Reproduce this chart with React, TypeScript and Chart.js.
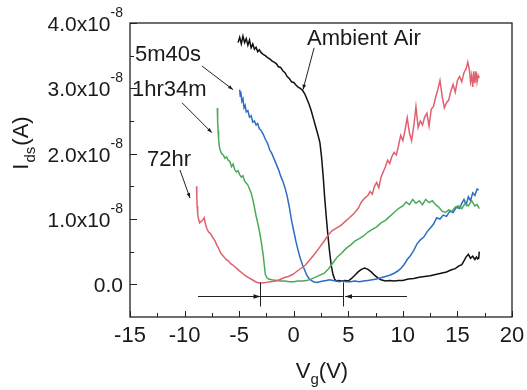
import React, { useEffect, useRef } from "react";
import { Chart, registerables } from "chart.js";

Chart.register(...registerables);

// ---- Data (current in units of 1e-8 A, gate voltage in V) ----
const ambientV = [-5.1,-4.95,-4.8,-4.65,-4.5,-4.35,-4.2,-4.05,-3.9,-3.75,-3.6,-3.45,-3.3,-3.15,-3.0,-2.8,-2.6,-2.4,-2.2,-2.0,-1.8,-1.6,-1.4,-1.2,-1.0,-0.8,-0.6,-0.4,-0.2,0.0,0.2,0.4,0.6,0.8,1.0,1.2,1.4,1.6,1.8,2.0,2.2,2.4,2.55,2.7,2.85,3.0,3.15,3.3,3.45,3.6,3.75,3.9,4.1,4.4,4.7,5.0,5.3,5.6,5.9,6.2,6.5,6.8,7.1,7.4,7.7,8.0,8.4,8.8,9.2,9.6,10.0,10.5,11.0,11.5,12.0,12.5,13.0,13.5,14.0,14.4,14.8,15.1,15.4,15.6,15.8,16.0,16.2,16.4,16.6,16.75,16.85,16.95,17.0];
const ambientI = [3.70,3.78,3.68,3.80,3.70,3.76,3.66,3.74,3.62,3.68,3.60,3.63,3.56,3.59,3.55,3.52,3.50,3.47,3.45,3.42,3.40,3.38,3.33,3.32,3.27,3.24,3.18,3.15,3.10,3.09,3.05,3.02,3.00,2.97,2.92,2.84,2.76,2.66,2.54,2.42,2.30,2.17,1.95,1.65,1.30,1.00,0.72,0.48,0.28,0.15,0.08,0.05,0.06,0.05,0.06,0.05,0.09,0.14,0.19,0.23,0.25,0.23,0.19,0.14,0.10,0.07,0.05,0.06,0.05,0.06,0.06,0.08,0.09,0.11,0.12,0.13,0.15,0.17,0.19,0.22,0.24,0.28,0.30,0.36,0.42,0.46,0.40,0.43,0.38,0.42,0.39,0.40,0.50];

const m5s40V = [-4.95,-4.9,-4.85,-4.75,-4.65,-4.55,-4.45,-4.35,-4.2,-4.05,-3.9,-3.75,-3.6,-3.45,-3.3,-3.15,-3.0,-2.8,-2.6,-2.4,-2.2,-2.0,-1.8,-1.6,-1.4,-1.2,-1.0,-0.8,-0.6,-0.4,-0.2,0.0,0.2,0.4,0.6,0.8,1.0,1.2,1.4,1.6,1.8,2.1,2.4,2.7,3.0,3.3,3.6,3.9,4.2,4.5,4.8,5.2,5.6,6.0,6.4,6.8,7.2,7.6,8.0,8.4,8.8,9.2,9.5,9.8,10.1,10.4,10.7,11.0,11.3,11.6,11.9,12.2,12.5,12.8,13.1,13.4,13.7,14.0,14.3,14.6,14.9,15.2,15.4,15.6,15.8,16.0,16.2,16.4,16.6,16.8,16.95];
const m5s40I = [2.98,2.88,2.95,2.80,2.84,2.70,2.74,2.64,2.66,2.56,2.58,2.48,2.50,2.44,2.46,2.38,2.36,2.30,2.22,2.16,2.06,2.00,1.92,1.84,1.76,1.66,1.58,1.48,1.35,1.18,0.98,0.82,0.66,0.52,0.40,0.30,0.22,0.14,0.09,0.06,0.04,0.03,0.04,0.05,0.06,0.07,0.06,0.05,0.04,0.05,0.04,0.04,0.05,0.04,0.05,0.06,0.07,0.08,0.10,0.12,0.14,0.17,0.20,0.24,0.30,0.38,0.44,0.52,0.62,0.68,0.72,0.80,0.86,0.92,1.02,1.00,1.06,1.04,1.12,1.10,1.18,1.16,1.24,1.30,1.22,1.34,1.28,1.40,1.36,1.46,1.44];

const h1m34V = [-7.0,-6.97,-6.93,-6.88,-6.82,-6.75,-6.6,-6.45,-6.3,-6.15,-6.0,-5.85,-5.7,-5.55,-5.4,-5.25,-5.1,-4.95,-4.8,-4.65,-4.5,-4.35,-4.2,-4.05,-3.9,-3.75,-3.6,-3.45,-3.3,-3.15,-3.0,-2.9,-2.8,-2.7,-2.6,-2.45,-2.3,-2.0,-1.6,-1.2,-0.8,-0.4,0.0,0.4,0.8,1.2,1.6,2.0,2.4,2.8,3.2,3.6,4.0,4.4,4.8,5.2,5.6,6.0,6.4,6.8,7.2,7.6,8.0,8.4,8.8,9.2,9.6,10.0,10.3,10.6,10.9,11.2,11.5,11.8,12.1,12.4,12.7,13.0,13.3,13.6,13.9,14.2,14.5,14.8,15.1,15.4,15.7,16.0,16.3,16.6,16.8,17.0];
const h1m34I = [2.70,2.50,2.35,2.22,2.12,2.06,2.00,1.98,1.93,1.95,1.90,1.88,1.80,1.84,1.75,1.72,1.74,1.68,1.64,1.66,1.58,1.55,1.52,1.46,1.40,1.30,1.18,1.05,0.94,0.82,0.68,0.57,0.45,0.30,0.15,0.10,0.08,0.07,0.06,0.05,0.05,0.04,0.04,0.05,0.05,0.06,0.08,0.11,0.14,0.17,0.24,0.33,0.42,0.48,0.55,0.60,0.66,0.70,0.74,0.80,0.84,0.88,0.94,0.98,1.04,1.10,1.16,1.20,1.26,1.22,1.30,1.24,1.28,1.22,1.30,1.25,1.28,1.22,1.18,1.12,1.10,1.14,1.12,1.18,1.20,1.16,1.24,1.20,1.28,1.20,1.22,1.16];

const h72V = [-8.9,-8.88,-8.85,-8.8,-8.72,-8.62,-8.5,-8.35,-8.2,-8.08,-7.95,-7.8,-7.65,-7.5,-7.35,-7.2,-7.05,-6.9,-6.75,-6.6,-6.4,-6.2,-6.0,-5.8,-5.6,-5.4,-5.2,-5.0,-4.7,-4.4,-4.1,-3.8,-3.5,-3.2,-2.9,-2.5,-2.1,-1.7,-1.3,-0.9,-0.5,-0.1,0.3,0.7,1.1,1.5,1.9,2.3,2.7,3.1,3.5,3.9,4.3,4.7,5.1,5.5,5.9,6.2,6.5,6.8,7.0,7.2,7.4,7.6,7.8,8.0,8.2,8.4,8.6,8.8,9.0,9.2,9.4,9.6,9.8,10.0,10.2,10.4,10.6,10.8,11.0,11.2,11.4,11.6,11.8,12.0,12.2,12.4,12.6,12.8,13.0,13.2,13.4,13.6,13.8,14.0,14.2,14.4,14.6,14.8,15.0,15.2,15.4,15.6,15.8,15.95,16.1,16.2,16.3,16.4,16.5,16.6,16.7,16.8,16.9,17.0];
const h72I = [1.50,1.35,1.20,1.08,1.00,0.94,0.96,0.98,1.02,0.92,0.85,0.80,0.78,0.74,0.70,0.66,0.60,0.56,0.50,0.46,0.42,0.38,0.36,0.32,0.30,0.27,0.24,0.21,0.17,0.13,0.10,0.07,0.04,0.02,0.02,0.03,0.04,0.05,0.07,0.10,0.12,0.15,0.20,0.25,0.30,0.38,0.46,0.55,0.64,0.74,0.82,0.86,0.90,0.96,1.02,1.08,1.16,1.26,1.32,1.36,1.42,1.38,1.50,1.56,1.48,1.64,1.72,1.80,1.90,1.85,1.96,2.02,1.98,2.12,2.28,2.20,2.36,2.55,2.32,2.20,2.42,2.72,2.40,2.50,2.44,2.56,2.62,2.42,2.68,2.72,2.86,2.98,3.12,2.88,2.70,2.78,2.82,2.96,3.06,2.94,3.12,3.18,3.10,3.24,3.30,3.40,3.28,3.10,3.20,3.02,3.26,3.08,3.26,3.10,3.20,3.16];

// ---- Axes ----
const xMajorTicks = [-15, -10, -5, 0, 5, 10, 15, 20];
const xMinorTicks = [-12.5, -7.5, -2.5, 2.5, 7.5, 12.5, 17.5];
const yMajorTicks = [0, 1, 2, 3, 4];
const yMinorTicks = [0.5, 1.5, 2.5, 3.5];
const yTickLabels = ["0.0", "1.0x10", "2.0x10", "3.0x10", "4.0x10"];
const yTickExponent = ["", "-8", "-8", "-8", "-8"];

// ---- Annotations (data coordinates) ----
const curveLabels = ["Ambient Air", "5m40s", "1hr34m", "72hr"];
const labelAt = [[1.22, 3.75], [-14.54, 3.51], [-14.82, 2.97], [-13.44, 1.91]];
const pointerFrom = [[1.87, 3.62], [-8.4, 3.34], [-10.24, 2.78], [-10.42, 1.75]];
const pointerTo = [[0.85, 2.98], [-5.56, 2.98], [-7.49, 2.32], [-9.5, 1.32]];
const shiftMarkers = [-3.09, 4.52];
const shiftArrowY = -0.185;

const FONT = '"Liberation Sans", Arial, Helvetica, sans-serif';

function toPts(xs: number[], ys: number[]) {
  return xs.map((x, i) => ({ x, y: ys[i] }));
}

function drawArrow(ctx: CanvasRenderingContext2D, x1: number, y1: number, x2: number, y2: number, head = 7, half = 2.6) {
  ctx.beginPath();
  ctx.moveTo(x1, y1);
  ctx.lineTo(x2, y2);
  ctx.stroke();
  const a = Math.atan2(y2 - y1, x2 - x1);
  ctx.beginPath();
  ctx.moveTo(x2, y2);
  ctx.lineTo(x2 - head * Math.cos(a) + half * Math.sin(a), y2 - head * Math.sin(a) - half * Math.cos(a));
  ctx.lineTo(x2 - head * Math.cos(a) - half * Math.sin(a), y2 - head * Math.sin(a) + half * Math.cos(a));
  ctx.closePath();
  ctx.fill();
}

const decorPlugin = {
  id: "decor",
  afterDraw(chart: any) {
    const ctx: CanvasRenderingContext2D = chart.ctx;
    const xs = chart.scales.x;
    const ys = chart.scales.y;
    const { left, right, top, bottom } = chart.chartArea;
    ctx.save();
    ctx.strokeStyle = "#222";
    ctx.fillStyle = "#222";
    // frame
    ctx.lineWidth = 1.3;
    ctx.strokeRect(left, top, right - left, bottom - top);
    // ticks (inward)
    ctx.lineWidth = 1;
    ctx.beginPath();
    xMajorTicks.forEach((v) => {
      const px = Math.round(xs.getPixelForValue(v)) + 0.5;
      ctx.moveTo(px, bottom);
      ctx.lineTo(px, bottom - 6);
    });
    xMinorTicks.forEach((v) => {
      const px = Math.round(xs.getPixelForValue(v)) + 0.5;
      ctx.moveTo(px, bottom);
      ctx.lineTo(px, bottom - 4);
    });
    yMajorTicks.forEach((v) => {
      const py = Math.round(ys.getPixelForValue(v)) + 0.5;
      ctx.moveTo(left, py);
      ctx.lineTo(left + 7, py);
    });
    yMinorTicks.forEach((v) => {
      const py = Math.round(ys.getPixelForValue(v)) + 0.5;
      ctx.moveTo(left, py);
      ctx.lineTo(left + 4, py);
    });
    ctx.stroke();

    // x tick labels
    ctx.fillStyle = "#1a1a1a";
    ctx.font = `22px ${FONT}`;
    ctx.textAlign = "center";
    ctx.textBaseline = "alphabetic";
    xMajorTicks.forEach((v) => {
      ctx.fillText(String(v), xs.getPixelForValue(v), bottom + 25);
    });

    // y tick labels with superscript exponent
    const rightEdge = left - 7;
    yMajorTicks.forEach((v, i) => {
      const py = ys.getPixelForValue(v);
      ctx.textAlign = "right";
      ctx.font = `14px ${FONT}`;
      const expW = yTickExponent[i] ? ctx.measureText(yTickExponent[i]).width : 0;
      if (yTickExponent[i]) ctx.fillText(yTickExponent[i], rightEdge, py - 6);
      ctx.font = `21px ${FONT}`;
      ctx.fillText(yTickLabels[i], rightEdge - expW, py + 8);
    });

    // x title: V_g(V)
    {
      ctx.textAlign = "left";
      ctx.font = `22px ${FONT}`;
      const wV = ctx.measureText("V").width;
      const wP = ctx.measureText("(V)").width;
      ctx.font = `15px ${FONT}`;
      const wg = ctx.measureText("g").width;
      const total = wV + wg + wP;
      let x0 = 322 - total / 2;
      const base = 378;
      ctx.font = `22px ${FONT}`;
      ctx.fillText("V", x0, base);
      ctx.font = `15px ${FONT}`;
      ctx.fillText("g", x0 + wV, base + 6);
      ctx.font = `22px ${FONT}`;
      ctx.fillText("(V)", x0 + wV + wg, base);
    }

    // y title: I_ds(A) rotated
    {
      ctx.save();
      ctx.translate(0, 144);
      ctx.rotate(-Math.PI / 2);
      ctx.textAlign = "left";
      ctx.font = `22px ${FONT}`;
      const wI = ctx.measureText("I").width;
      const wA = ctx.measureText("(A)").width;
      ctx.font = `15px ${FONT}`;
      const wd = ctx.measureText("ds").width;
      const total = wI + wd + wA;
      const u0 = -total / 2;
      ctx.font = `22px ${FONT}`;
      ctx.fillText("I", u0, 28);
      ctx.font = `15px ${FONT}`;
      ctx.fillText("ds", u0 + wI + 1, 35);
      ctx.font = `22px ${FONT}`;
      ctx.fillText("(A)", u0 + wI + wd + 2, 28);
      ctx.restore();
    }

    // curve labels and pointers
    ctx.font = `22px ${FONT}`;
    ctx.textAlign = "left";
    ctx.textBaseline = "middle";
    ctx.fillStyle = "#1a1a1a";
    ctx.strokeStyle = "#222";
    ctx.lineWidth = 1;
    curveLabels.forEach((t, i) => {
      ctx.fillText(t, xs.getPixelForValue(labelAt[i][0]), ys.getPixelForValue(labelAt[i][1]));
      drawArrow(
        ctx,
        xs.getPixelForValue(pointerFrom[i][0]), ys.getPixelForValue(pointerFrom[i][1]),
        xs.getPixelForValue(pointerTo[i][0]), ys.getPixelForValue(pointerTo[i][1]),
        5, 1.8
      );
    });

    // threshold shift arrows at the bottom
    const ay = Math.round(ys.getPixelForValue(shiftArrowY)) + 0.5;
    const m1 = Math.round(xs.getPixelForValue(shiftMarkers[0])) + 0.5;
    const m2 = Math.round(xs.getPixelForValue(shiftMarkers[1])) + 0.5;
    ctx.beginPath();
    [m1, m2].forEach((m) => {
      ctx.moveTo(m, ys.getPixelForValue(0.03));
      ctx.lineTo(m, ys.getPixelForValue(-0.34));
    });
    ctx.stroke();
    drawArrow(ctx, xs.getPixelForValue(-8.77), ay, m1, ay, 7, 2.2);
    ctx.beginPath();
    ctx.moveTo(m1, ay);
    ctx.lineTo(m2, ay);
    ctx.stroke();
    drawArrow(ctx, xs.getPixelForValue(10.38), ay, m2 + 1.5, ay, 7, 2.2);

    ctx.restore();
  },
};

export default function App() {
  const ref = useRef<HTMLCanvasElement | null>(null);
  useEffect(() => {
    if (!ref.current) return;
    const mk = (label: string, xs: number[], ys: number[], color: string) => ({
      label,
      data: toPts(xs, ys),
      borderColor: color,
      backgroundColor: color,
      borderWidth: 1.5,
      pointRadius: 0,
      tension: 0,
      fill: false,
    });
    const chart = new Chart(ref.current, {
      type: "line",
      data: {
        datasets: [
          mk("72hr", h72V, h72I, "#e0606e"),
          mk("1hr34m", h1m34V, h1m34I, "#4aaa58"),
          mk("5m40s", m5s40V, m5s40I, "#2f6cc4"),
          mk("Ambient Air", ambientV, ambientI, "#111111"),
        ],
      },
      options: {
        animation: false,
        responsive: false,
        devicePixelRatio: 1,
        layout: { padding: { left: 130, right: 15, top: 23, bottom: 73 } },
        scales: {
          x: { type: "linear", min: -15, max: 20, display: false },
          y: { type: "linear", min: -0.5, max: 4, display: false },
        },
        plugins: { legend: { display: false }, tooltip: { enabled: false } },
      },
      plugins: [decorPlugin],
    } as any);
    return () => chart.destroy();
  }, []);
  return (
    <div style={{ position: "absolute", left: 0, top: 0, width: 527, height: 390, background: "#fff" }}>
      <canvas ref={ref} width={527} height={390} />
    </div>
  );
}
